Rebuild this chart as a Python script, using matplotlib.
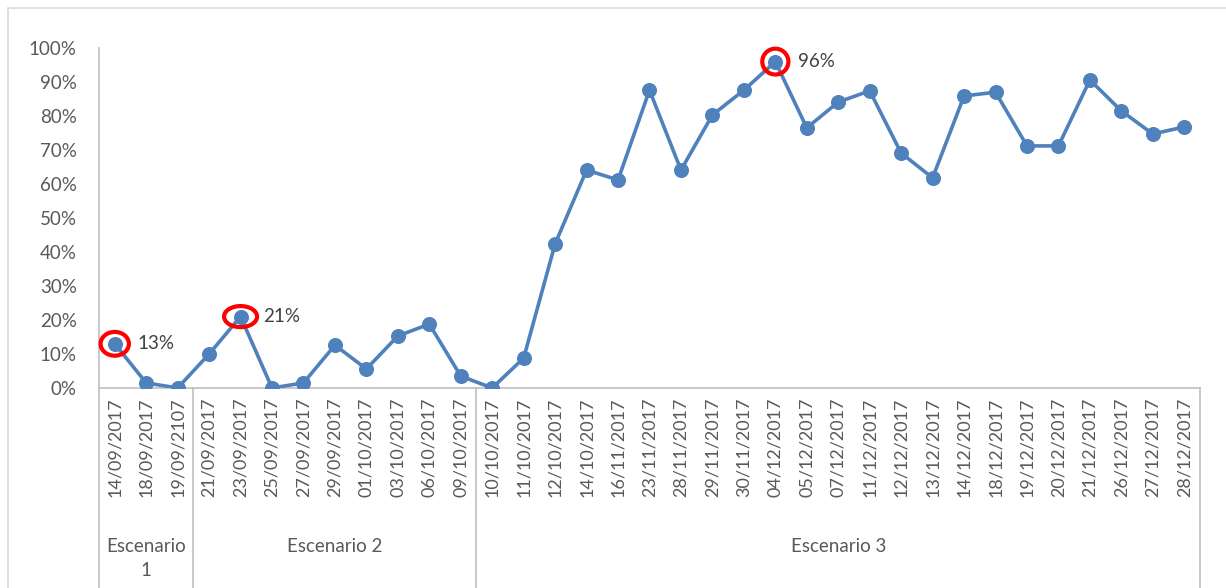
import matplotlib.pyplot as plt
from matplotlib.patches import Ellipse, Rectangle
from matplotlib.ticker import PercentFormatter

# datos
fechas = ['14/09/2017', '18/09/2017', '19/09/2107',
          '21/09/2017', '23/09/2017', '25/09/2017', '27/09/2017', '29/09/2017',
          '01/10/2017', '03/10/2017', '06/10/2017', '09/10/2017',
          '10/10/2017', '11/10/2017', '12/10/2017', '14/10/2017', '16/11/2017',
          '23/11/2017', '28/11/2017', '29/11/2017', '30/11/2017', '04/12/2017',
          '05/12/2017', '07/12/2017', '11/12/2017', '12/12/2017', '13/12/2017',
          '14/12/2017', '18/12/2017', '19/12/2017', '20/12/2017', '21/12/2017',
          '26/12/2017', '27/12/2017', '28/12/2017']
valores = [0.13, 0.015, 0.0,
           0.10, 0.21, 0.0, 0.015, 0.126, 0.056, 0.153, 0.188, 0.035,
           0.0, 0.088, 0.424, 0.641, 0.612, 0.876, 0.641, 0.803, 0.876, 0.96,
           0.765, 0.841, 0.874, 0.691, 0.618, 0.859, 0.87, 0.712, 0.712, 0.906,
           0.815, 0.747, 0.768]
escenarios = ['Escenario\n1', 'Escenario 2', 'Escenario 3']
n_por_escenario = [3, 9, 23]
destacados = [0, 4, 21]

gris = '#595959'
azul = '#4F81BD'
plt.rcParams['font.family'] = ['Lato', 'DejaVu Sans']

fig = plt.figure(figsize=(12.26, 5.88), dpi=100)
ax = fig.add_axes([99 / 1226, 200 / 588, 1101 / 1226, 340 / 588])

# marco exterior
fig.patches.append(Rectangle((8 / 1226, -0.1), 1.1, (580 / 588) + 0.1,
                             transform=fig.transFigure, fill=False,
                             edgecolor='#D9D9D9', lw=1.2))

x = list(range(len(fechas)))
ax.plot(x, valores, color=azul, lw=2.6, marker='o', markersize=9.8, zorder=3)

ax.set_xlim(-0.5, len(fechas) - 0.5)
ax.set_ylim(0, 1)
ax.set_yticks([i / 10 for i in range(11)])
ax.yaxis.set_major_formatter(PercentFormatter(1.0, decimals=0))
ax.set_xticks(x)
ax.set_xticklabels(fechas, rotation=90, ha='center', va='top')
ax.tick_params(axis='both', length=0, labelcolor=gris)
ax.tick_params(axis='y', pad=16, labelsize=13.5)
ax.tick_params(axis='x', pad=7, labelsize=13)

for s in ['top', 'right']:
    ax.spines[s].set_visible(False)
for s in ['left', 'bottom']:
    ax.spines[s].set_color('#BFBFBF')
    ax.spines[s].set_linewidth(1.2)

# separadores y etiquetas de escenarios
trans = ax.get_xaxis_transform()
inicio = -0.5
bordes = [inicio]
for n in n_por_escenario:
    bordes.append(bordes[-1] + n)
for b in bordes:
    ax.plot([b, b], [0, -0.62], color='#BFBFBF', lw=1.2, transform=trans,
            clip_on=False)
for nombre, a, b in zip(escenarios, bordes[:-1], bordes[1:]):
    ax.text((a + b) / 2, -0.44, nombre, transform=trans, ha='center',
            va='top', fontsize=13.5, color=gris, linespacing=1.5)

# puntos destacados
anchos = [(0.9, 0.07), (1.05, 0.062), (0.83, 0.076)]
for i, (w, h) in zip(destacados, anchos):
    ax.add_patch(Ellipse((i, valores[i]), w, h, fill=False, edgecolor='red',
                         lw=3, zorder=4, clip_on=False))
    ax.annotate(f'{valores[i]:.0%}', (i, valores[i]), xytext=(16, 0),
                textcoords='offset points', ha='left', va='center',
                fontsize=13.5, color='#404040')

fig.savefig('out.png', dpi=100)
